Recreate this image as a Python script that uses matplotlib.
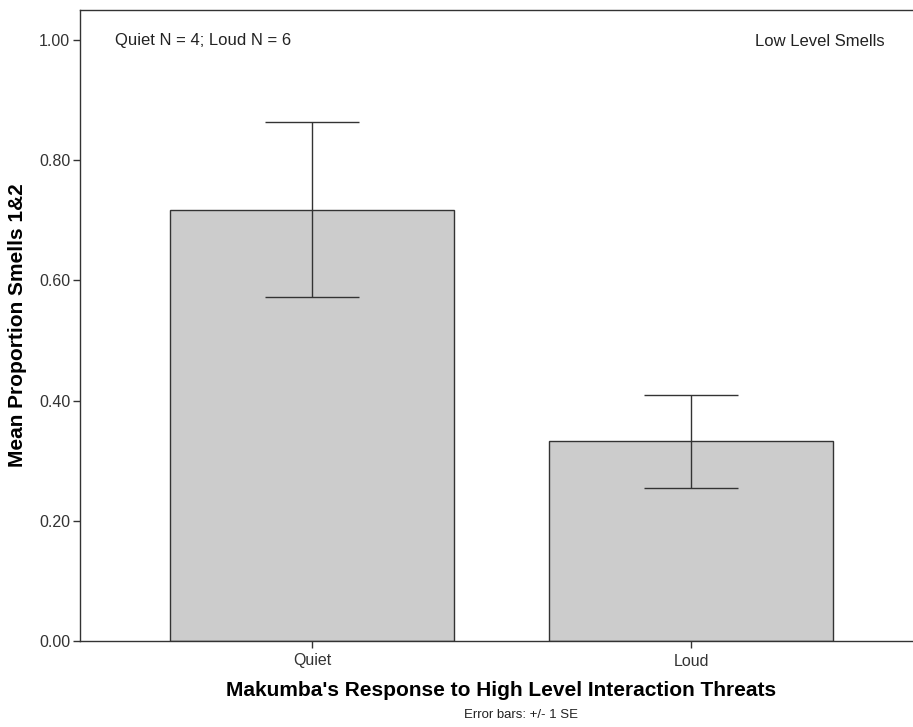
import matplotlib.pyplot as plt
import numpy as np

plt.rcParams['font.family'] = ['Liberation Sans', 'DejaVu Sans']

categories = ["Quiet", "Loud"]
means = [0.718, 0.332]
se = [0.146, 0.078]
y_ticks = [0.0, 0.2, 0.4, 0.6, 0.8, 1.0]

fig = plt.figure(figsize=(9.13, 7.27), dpi=100)
ax = fig.add_axes([80 / 913, 86 / 727, 843 / 913, 631 / 727])

x = np.arange(len(categories))
ax.bar(x, means, width=0.75, color="#cccccc", edgecolor="#333333", linewidth=1.0, zorder=2)
ax.errorbar(x, means, yerr=se, fmt="none", ecolor="#333333", elinewidth=1.0,
            capsize=34, capthick=1.0, zorder=3)

ax.set_xlim(-0.612, 1.612)
ax.set_ylim(0, 1.05)
ax.set_xticks(x)
ax.set_xticklabels(categories)
ax.set_yticks(y_ticks)
ax.set_yticklabels([f"{v:.2f}" for v in y_ticks])
ax.tick_params(axis="both", direction="out", length=5, width=1, color="#333333",
               labelsize=11.5, labelcolor="#333333", pad=2)
ax.tick_params(axis="x", pad=4)
for s in ax.spines.values():
    s.set_color("#333333")
    s.set_linewidth(1.0)

ax.set_xlabel("Makumba's Response to High Level Interaction Threats",
              fontsize=15, fontweight="bold", labelpad=9)
ax.set_ylabel("Mean Proportion Smells 1&2", fontsize=15, fontweight="bold", labelpad=9)

fig.text(115 / 913, 1 - 41 / 727, "Quiet N = 4; Loud N = 6", fontsize=12,
         color="#222222", va="center", ha="left")
fig.text(885 / 913, 1 - 42 / 727, "Low Level Smells", fontsize=12,
         color="#222222", va="center", ha="right")
fig.text(521 / 913, 1 - 715 / 727, "Error bars: +/- 1 SE", fontsize=9.5,
         color="#222222", va="center", ha="center")

fig.savefig("out.png", dpi=100)
